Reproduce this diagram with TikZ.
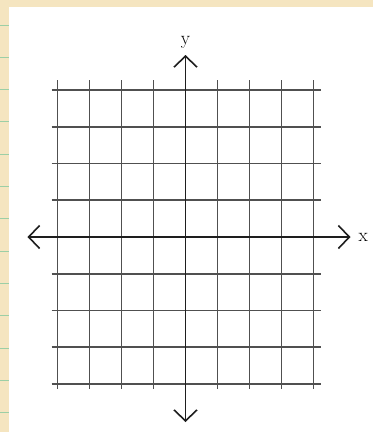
\documentclass[tikz,border=0pt]{standalone}
\usepackage{tikz}
\usetikzlibrary{arrows.meta, positioning}

\definecolor{cpaper}{HTML}{F5E5C0}   % beige page
\definecolor{crule}{HTML}{9CCFA6}    % margin rules
\definecolor{cgrid}{HTML}{505050}    % grid lines
\definecolor{caxis}{HTML}{1E1E1E}    % axes

\begin{document}
\begin{tikzpicture}[
    x=1pt, y=-1pt,
    >={Straight Barb[length=11pt, width=23pt]},
    gridline/.style={draw=cgrid, line width=1.7pt},
    axis/.style={->, draw=caxis, line width=1.6pt},
    lbl/.style={font=\fontsize{19}{21}\selectfont, inner sep=1pt},
]
% ---- Page: beige sheet, white panel, margin rules ----
\fill[cpaper] (0,0) rectangle (372,432);
\fill[white] (9,7) rectangle (372,432);
\foreach \k in {0,...,12}
    \draw[crule, line width=1pt] (0,{25+32.3*\k}) -- (9,{25+32.3*\k});
\useasboundingbox (0,0) rectangle (372,432);

% ---- Grid: 8 columns, 8 rows around the origin ----
\foreach \k in {-4,...,-1,1,2,3,4}
    \draw[gridline] ({185+32*\k},80) -- ({185+32*\k},389);
\foreach \k in {-4,...,-1,1,2,3,4}
    \draw[gridline] (51,{237+36.7*\k}) -- (320,{237+36.7*\k});

% ---- Axes ----
\coordinate (O) at (185,237);
\coordinate (xl) at (27,237);
\coordinate (xr) at (350,237);
\coordinate (yt) at (185,55);
\coordinate (yb) at (185,422);
\draw[axis] (O) -- (xl);
\draw[axis] (O) -- (xr);
\draw[axis] (O) -- (yt);
\draw[axis] (O) -- (yb);

\node[lbl, right=7pt of xr] (xlab) {x};
\node[lbl, above=5pt of yt] (ylab) {y};
\end{tikzpicture}
\end{document}
